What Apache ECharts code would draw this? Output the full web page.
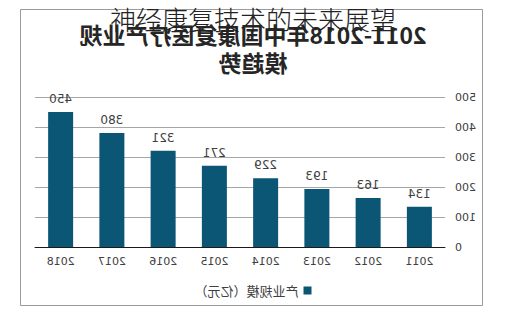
<!DOCTYPE html>
<html><head><meta charset="utf-8">
<script src="https://cdn.jsdelivr.net/npm/echarts@6/dist/echarts.min.js"></script>
<style>
html,body{margin:0;padding:0;background:#fff;}
#wrap{position:relative;width:506px;height:327px;overflow:hidden;}
#chart{position:absolute;left:0;top:0;width:506px;height:327px;transform:scaleX(-1);}
#over{position:absolute;left:0;top:3px;width:506px;text-align:center;font-family:"Noto Sans CJK SC","Noto Sans",sans-serif;font-size:26px;font-weight:300;color:#222;line-height:32px;}
</style></head>
<body><div id="wrap"><div id="chart"></div><div id="over">神经康复技术的未来展望</div></div>
<script>
const overlayTitle = "神经康复技术的未来展望";
const chartTitle = "2011-2018年中国康复医疗产业规\n模趋势";
const years = ["2011","2012","2013","2014","2015","2016","2017","2018"];
const scale = [134,163,193,229,271,321,380,450];
const seriesName = "产业规模（亿元）";
const yTicks = [0,100,200,300,400,500];

const chart = echarts.init(document.getElementById('chart'), null, {renderer:'svg'});
chart.setOption({
  animation:false,
  backgroundColor:'#fff',
  graphic:[{type:'rect',z:-1,shape:{x:23.5,y:9.5,width:462,height:296},style:{fill:'none',stroke:'#9a9a9a',lineWidth:1}}],
  title:{text:chartTitle,left:'center',top:15,textStyle:{fontFamily:'Noto Sans CJK SC',fontSize:23,fontWeight:'bold',color:'#262626',lineHeight:28}},
  legend:{data:[seriesName],left:'center',top:279,itemWidth:8,itemHeight:8,icon:'rect',itemGap:6,
    textStyle:{fontFamily:'Noto Sans CJK SC',fontSize:13,color:'#404040'}},
  grid:{left:61,right:35,top:97,bottom:80,containLabel:false},
  xAxis:{type:'category',data:years,
    axisLine:{lineStyle:{color:'#1a1a1a',width:1}},axisTick:{show:false},
    axisLabel:{fontFamily:'DejaVu Sans',fontSize:11,color:'#404040',margin:9}},
  yAxis:{type:'value',min:0,max:500,interval:100,
    axisLine:{show:false},axisTick:{show:false},
    axisLabel:{fontFamily:'DejaVu Sans',fontSize:11,color:'#404040',margin:10},
    splitLine:{lineStyle:{color:'#a6a6a6',width:1}}},
  series:[{name:seriesName,type:'bar',data:scale,barWidth:25,
    itemStyle:{color:'#0b5674'},
    label:{show:true,position:'top',distance:7,fontFamily:'DejaVu Sans',fontSize:12,color:'#404040'}}]
});
</script></body></html>
